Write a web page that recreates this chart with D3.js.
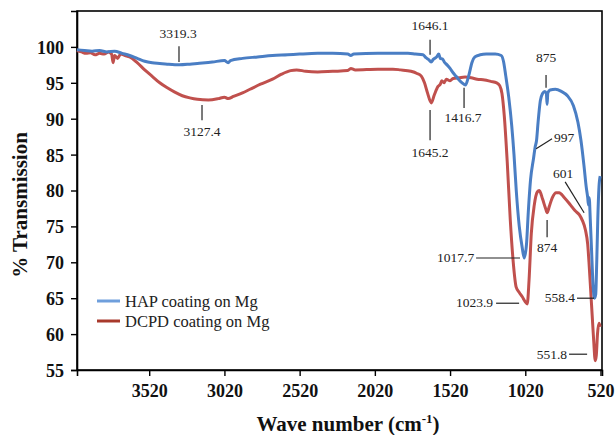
<!DOCTYPE html>
<html><head><meta charset="utf-8">
<script src="https://cdn.jsdelivr.net/npm/d3@7"></script>
<style>
html,body{margin:0;padding:0;background:#fff;}
svg{display:block;}
</style></head>
<body>
<svg id="chart" width="616" height="435"></svg>
<script>
// ---------- DATA ----------
const seriesNames = ["HAP coating on Mg", "DCPD coating on Mg"];
const xTickValues = [3520, 3020, 2520, 2020, 1520, 1020, 520];
const yTickValues = [55, 60, 65, 70, 75, 80, 85, 90, 95, 100];

// HAP: [wave number, % transmission]
const hapData = [
 [4000,99.6],[3950,99.5],[3900,99.4],[3850,99.5],[3800,99.3],[3750,99.4],[3700,99.1],[3650,98.8],
 [3600,98.4],[3550,98.0],[3500,97.8],[3450,97.7],[3400,97.6],[3319,97.5],[3250,97.6],[3200,97.7],
 [3100,97.9],[3020,98.1],[2995,97.8],[2980,98.1],[2900,98.4],[2800,98.6],[2700,98.8],[2600,98.9],
 [2520,99.0],[2400,99.1],[2300,99.1],[2200,99.0],[2180,98.8],[2160,99.0],[2000,99.1],[1900,99.1],
 [1800,99.1],[1750,99.0],[1700,98.9],[1680,98.5],[1660,98.2],[1646,97.9],[1630,98.3],[1610,98.6],
 [1595,99.0],[1585,98.4],[1570,98.3],[1555,97.8],[1540,97.5],[1520,97.0],[1500,96.4],[1480,95.9],
 [1460,95.4],[1440,95.0],[1417,94.7],[1405,95.3],[1390,96.5],[1375,97.8],[1355,98.6],[1320,98.9],
 [1280,99.0],[1220,99.0],[1180,98.8],[1165,98.0],[1150,96.0],[1130,93.0],[1110,89.0],[1095,85.0],
 [1080,80.0],[1060,75.0],[1040,72.0],[1027,70.6],[1012,72.5],[1000,77.0],[985,81.5],[965,84.5],
 [955,86.0],[945,87.0],[935,89.5],[920,92.5],[905,93.5],[890,93.8],[880,93.5],[875,92.0],
 [870,93.6],[855,94.0],[820,94.1],[780,93.8],[740,93.2],[700,91.8],[670,89.5],[650,87.0],
 [630,83.5],[615,80.5],[605,79.0],[600,78.0],[595,79.0],[588,76.0],[580,72.0],[570,67.0],
 [560,65.0],[552,65.5],[545,70.0],[538,76.0],[530,80.5],[522,82.0]
];

// DCPD: [wave number, % transmission]
const dcpdData = [
 [4000,99.5],[3970,99.3],[3940,99.1],[3910,99.2],[3880,98.9],[3850,99.1],[3820,99.0],[3790,99.3],
 [3770,99.0],[3760,97.8],[3750,98.8],[3730,98.4],[3710,99.0],[3680,98.8],[3650,98.6],[3600,97.8],
 [3550,96.8],[3500,95.9],[3450,95.0],[3400,94.3],[3350,93.7],[3300,93.2],[3250,92.9],[3200,92.7],
 [3127,92.6],[3060,92.8],[3020,93.0],[2995,92.8],[2960,93.1],[2900,93.6],[2850,94.1],[2780,94.8],
 [2700,95.5],[2640,96.2],[2580,96.7],[2540,96.8],[2480,96.6],[2400,96.5],[2300,96.6],[2200,96.7],
 [2180,97.0],[2150,96.8],[2000,96.9],[1900,96.9],[1850,96.8],[1780,96.6],[1740,96.3],[1710,95.9],
 [1690,95.0],[1670,93.6],[1645,92.2],[1625,93.3],[1600,94.5],[1585,94.8],[1575,95.3],[1560,95.0],
 [1545,95.5],[1520,95.3],[1500,95.6],[1460,95.7],[1420,95.8],[1380,95.7],[1340,95.5],[1290,95.4],
 [1250,95.2],[1210,95.0],[1190,94.6],[1175,93.5],[1160,90.5],[1140,84.0],[1120,76.0],[1100,70.0],
 [1080,66.5],[1060,65.8],[1040,65.2],[1020,64.5],[1007,64.2],[995,67.5],[980,74.0],[960,78.0],
 [940,79.8],[927,80.0],[905,78.8],[885,77.5],[874,76.9],[860,77.8],[840,79.0],[815,79.7],
 [795,79.7],[760,79.0],[720,78.0],[690,77.2],[660,76.6],[640,75.8],[620,74.5],[605,72.5],
 [595,69.5],[585,66.0],[575,62.5],[565,59.0],[555,56.3],[548,57.0],[540,60.0],[530,61.5],[522,61.0]
];

// Peak labels
const peakLabels = ["3319.3","3127.4","1646.1","1645.2","1416.7","875","997","601","874","1017.7","1023.9","558.4","551.8"];

// ---------- LAYOUT ----------
const W = 616, H = 435;
const margin = {left: 77, right: 14, top: 11, bottom: 65};
const svg = d3.select("#chart");
const x = d3.scaleLinear().domain([4000, 510]).range([margin.left, W - margin.right]);
const y = d3.scaleLinear().domain([55, 105]).range([H - margin.bottom, margin.top]);

const blue = "#4a7ec4", red = "#c0504d";
const serif = "'Liberation Serif', 'Times New Roman', serif";

// Frame
svg.append("rect")
  .attr("x", x.range()[0]).attr("y", y.range()[1])
  .attr("width", x.range()[1] - x.range()[0])
  .attr("height", y.range()[0] - y.range()[1])
  .attr("fill", "none").attr("stroke", "#000").attr("stroke-width", 1.6);

// Axes
const xAxis = svg.append("g")
  .attr("transform", `translate(0,${y.range()[0]})`)
  .call(d3.axisBottom(x).tickValues(xTickValues).tickSize(6).tickPadding(8).tickFormat(d3.format("d")));
const yAxis = svg.append("g")
  .attr("transform", `translate(${x.range()[0]},0)`)
  .call(d3.axisLeft(y).tickValues(yTickValues).tickSize(6).tickPadding(7).tickFormat(d3.format("d")));
[xAxis, yAxis].forEach(g => {
  g.select(".domain").attr("stroke", "#000").attr("stroke-width", 1.6);
  g.selectAll(".tick line").attr("stroke", "#000").attr("stroke-width", 1.4);
  g.selectAll(".tick text").attr("fill", "#111")
    .style("font-family", serif).style("font-weight", "bold").style("font-size", "18px");
});
yAxis.selectAll(".tick text").attr("dy", "0.36em");

// Axis titles
svg.append("text")
  .attr("x", 348).attr("y", 431)
  .attr("text-anchor", "middle")
  .style("font-family", serif).style("font-weight", "bold").style("font-size", "21px")
  .attr("fill", "#111")
  .call(t => {
    t.append("tspan").text("Wave number (cm");
    t.append("tspan").attr("dy", -8).style("font-size", "13px").text("-1");
    t.append("tspan").attr("dy", 8).text(")");
  });
svg.append("text")
  .attr("transform", "translate(27,205) rotate(-90)")
  .attr("text-anchor", "middle")
  .style("font-family", serif).style("font-weight", "bold").style("font-size", "21px")
  .attr("fill", "#111")
  .text("% Transmission");

// Lines
const line = d3.line().x(d => x(d[0])).y(d => y(d[1])).curve(d3.curveMonotoneX);
svg.append("path").datum(dcpdData)
  .attr("d", line).attr("fill", "none").attr("stroke", red)
  .attr("stroke-width", 3).attr("stroke-linejoin", "round");
svg.append("path").datum(hapData)
  .attr("d", line).attr("fill", "none").attr("stroke", blue)
  .attr("stroke-width", 3).attr("stroke-linejoin", "round");

// Annotations: leader lines in data coordinates and text anchor
// [x1, y1, x2, y2, textX, textY, anchor]
const annLayout = [
  [3322, 100.1, 3322, 97.9, 3328, 101.2, "middle"],
  [3169, 91.9, 3169, 89.8, 3169, 87.6, "middle"],
  [1653, 101.0, 1653, 98.9, 1653, 102.4, "middle"],
  [1653, 91.2, 1653, 87.0, 1653, 84.7, "middle"],
  [1427, 94.3, 1427, 91.5, 1434, 89.5, "middle"],
  [882, 96.1, 882, 94.3, 882, 97.9, "middle"],
  [948, 85.8, 842, 87.2, 829, 86.8, "start"],
  [755, 81.2, 629, 76.9, 769, 81.7, "middle"],
  [875, 75.9, 875, 73.5, 875, 71.4, "middle"],
  [1347, 70.6, 1055, 70.6, 1360, 70.0, "end"],
  [1214, 64.3, 1061, 64.3, 1234, 63.8, "end"],
  [676, 65.0, 563, 65.0, 689, 64.5, "end"],
  [729, 57.2, 609, 57.2, 742, 56.5, "end"]
];
const ann = svg.append("g");
annLayout.forEach((a, i) => {
  ann.append("line")
    .attr("x1", x(a[0])).attr("y1", y(a[1]))
    .attr("x2", x(a[2])).attr("y2", y(a[3]))
    .attr("stroke", "#222").attr("stroke-width", 1.2);
  ann.append("text")
    .attr("x", x(a[4])).attr("y", y(a[5]))
    .attr("text-anchor", a[6])
    .style("font-family", serif).style("font-size", "13.5px")
    .attr("fill", "#222")
    .text(peakLabels[i]);
});

// Legend
const legendColors = ["#6f9fdc", "#a8392c"];
const leg = svg.append("g");
seriesNames.forEach((name, i) => {
  const ly = 301 + i * 20;
  leg.append("line").attr("x1", 97).attr("x2", 120).attr("y1", ly).attr("y2", ly)
    .attr("stroke", legendColors[i]).attr("stroke-width", 3);
  leg.append("text").attr("x", 125).attr("y", ly + 5.5)
    .style("font-family", serif).style("font-size", "16.5px").attr("fill", "#222")
    .text(name);
});
</script>
</body></html>
